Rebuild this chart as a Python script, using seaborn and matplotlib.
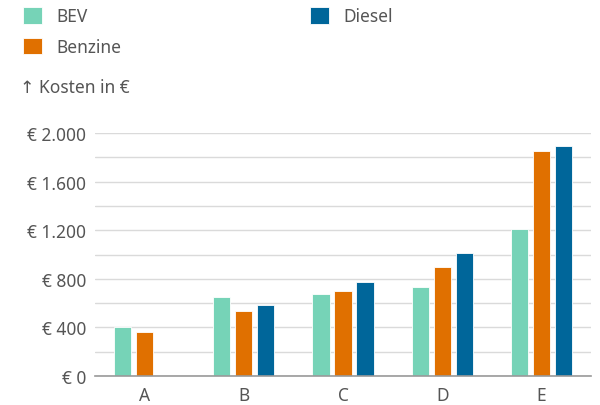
import numpy as np
import pandas as pd
import matplotlib.pyplot as plt
import seaborn as sns
from matplotlib.ticker import FuncFormatter, MultipleLocator

# Daten
kategorien = ["A", "B", "C", "D", "E"]
bev = [400, 653, 672, 735, 1210]
benzine = [362, 535, 702, 900, 1852]
diesel = [np.nan, 582, 771, 1012, 1890]

df = pd.DataFrame({
    "kategorie": kategorien * 3,
    "antrieb": ["BEV"] * 5 + ["Benzine"] * 5 + ["Diesel"] * 5,
    "kosten": bev + benzine + diesel,
})

farben = {"BEV": "#76D3B7", "Benzine": "#E07000", "Diesel": "#00669A"}

sns.set_style("white")
plt.rcParams["font.family"] = ["Noto Sans", "DejaVu Sans"]
text_farbe = "#555555"
fs = 12.5

fig = plt.figure(figsize=(6, 4.06), dpi=100)
ax = fig.add_axes([95 / 600, 29 / 406, 496 / 600, 243 / 406])

sns.barplot(data=df, x="kategorie", y="kosten", hue="antrieb",
            hue_order=["BEV", "Benzine", "Diesel"], palette=farben,
            saturation=1, width=0.665, gap=0.21, edgecolor="white",
            linewidth=0.6, ax=ax, legend=True)

ax.set_xlim(-0.5, 4.5)
ax.set_ylim(0, 2000)
ax.yaxis.set_major_locator(MultipleLocator(400))
ax.yaxis.set_minor_locator(MultipleLocator(200))
ax.yaxis.set_major_formatter(FuncFormatter(lambda v, p: "€ " + f"{int(v):,}".replace(",", ".")))
ax.grid(axis="y", which="both", color="#DADADA", linewidth=1)
ax.set_axisbelow(True)
for s in ["top", "right", "left"]:
    ax.spines[s].set_visible(False)
ax.spines["bottom"].set_color("#999999")
ax.spines["bottom"].set_linewidth(1.2)
ax.tick_params(axis="both", length=0, labelsize=fs, colors=text_farbe)
ax.tick_params(axis="y", pad=6.5)
ax.tick_params(axis="x", pad=7)
ax.set_xlabel("")
ax.set_ylabel("")

handles, labels = ax.get_legend_handles_labels()
ax.get_legend().remove()
fig.legend(handles, labels, loc="upper left", bbox_to_anchor=(23 / 600, 1 - 8 / 406),
           ncol=2, frameon=False, fontsize=fs, labelcolor=text_farbe,
           handlelength=1.1, handleheight=1.1, handletextpad=0.8,
           columnspacing=10.9, labelspacing=0.72, borderpad=0, borderaxespad=0)

fig.text(20 / 600, 1 - 88 / 406, "↑ Kosten in €", fontsize=fs, color=text_farbe,
         va="center", ha="left")

fig.savefig("out.png", dpi=100)
